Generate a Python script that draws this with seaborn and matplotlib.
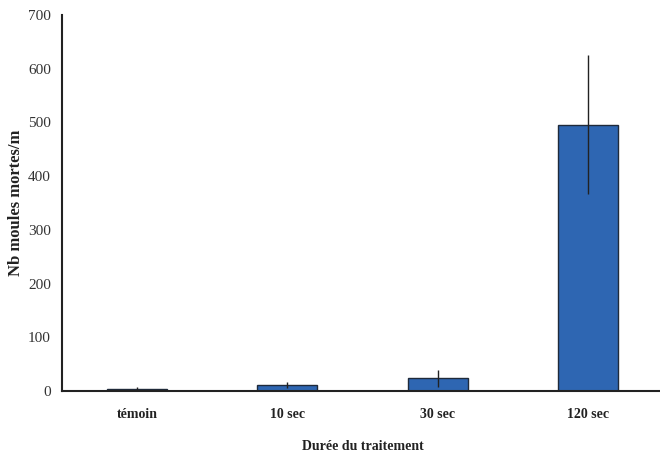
import matplotlib
matplotlib.use("Agg")
import matplotlib.pyplot as plt
import seaborn as sns
import numpy as np

categories = ["témoin", "10 sec", "30 sec", "120 sec"]
values = [3, 11, 24, 496]
errors = [4, 5, 16, 130]
yticks = [0, 100, 200, 300, 400, 500, 600, 700]

sns.set_theme(style="white")
plt.rcParams['font.family'] = ['Liberation Serif', 'DejaVu Serif']

fig = plt.figure(figsize=(6.6, 4.57), dpi=100)
ax = fig.add_axes([62/660, (457-391)/457, 601/660, 376/457])

sns.barplot(x=categories, y=values, color="#2E66B2", saturation=1,
            width=0.4, edgecolor="#1f2a3a", linewidth=1.0, errorbar=None, ax=ax)
ax.errorbar(x=np.arange(len(categories)), y=values, yerr=errors, fmt='none',
            ecolor="#222222", elinewidth=1.0, capsize=0, zorder=5)

ax.set_xlim(-0.5, len(categories) - 0.5)
ax.set_ylim(0, 700)
ax.set_yticks(yticks)
ax.set_yticklabels([str(v) for v in yticks], fontsize=11, color='#333333')

ax.set_xticks(np.arange(len(categories)))
ax.set_xticklabels(categories, fontsize=10, fontweight='bold', color='#222222')
ax.set_xticks(np.arange(len(categories) + 1) - 0.5, minor=True)
ax.tick_params(axis='x', which='major', length=0, pad=12)
ax.tick_params(axis='x', which='minor', length=6, width=1.2, direction='out', color='#222222')
ax.tick_params(axis='y', length=5, width=1.2, direction='out', color='#222222', pad=3)

for s in ['top', 'right']:
    ax.spines[s].set_visible(False)
for s in ['left', 'bottom']:
    ax.spines[s].set_color('#222222')
    ax.spines[s].set_linewidth(1.5)

ax.set_xlabel("Durée du traitement", fontsize=10, fontweight='bold', labelpad=14, color='#222222')
ax.set_ylabel("Nb moules mortes/m", fontsize=12, fontweight='bold', labelpad=3, color='#222222')

fig.savefig("out.png", dpi=100)
